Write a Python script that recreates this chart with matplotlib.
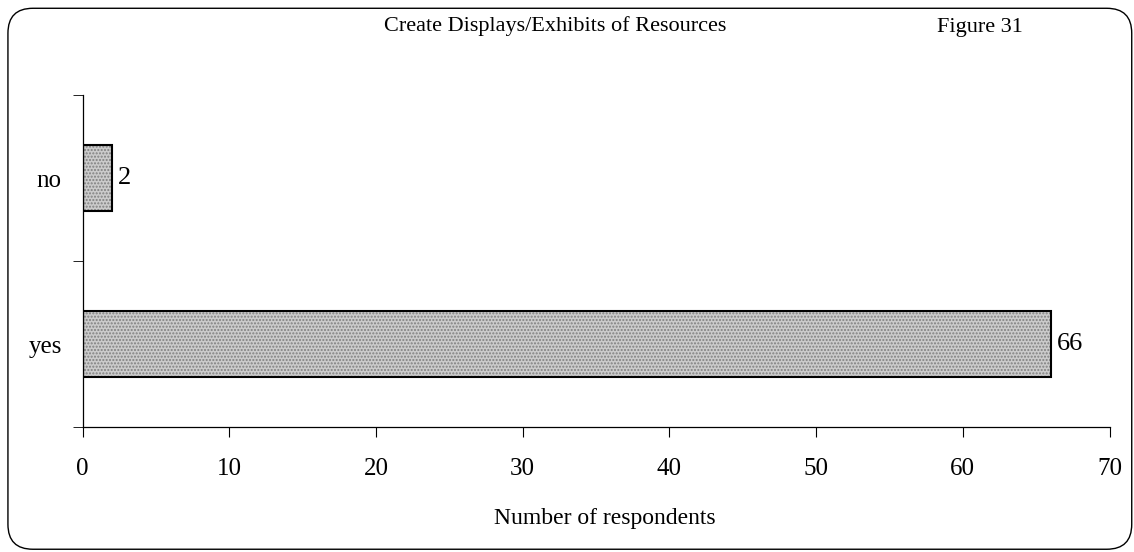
import matplotlib
matplotlib.use('Agg')
from matplotlib import pyplot as plt
from matplotlib.patches import FancyBboxPatch

plt.rcParams['font.family'] = ['Liberation Serif', 'DejaVu Serif']

categories = ['yes', 'no']
counts = [66, 2]
xticks = [0, 10, 20, 30, 40, 50, 60, 70]

fig = plt.figure(figsize=(11.34, 5.52), dpi=100)

# rounded frame around the whole chart
frame = FancyBboxPatch((0.007, 0.005), 0.991, 0.980,
                       boxstyle='round,pad=0,rounding_size=0.022',
                       transform=fig.transFigure, fill=False,
                       edgecolor='black', linewidth=1.0,
                       mutation_aspect=1134 / 552)
fig.patches.append(frame)

ax = fig.add_axes([0.0728, 0.2264, 0.9056, 0.6015])
ypos = list(range(len(categories)))
# dotted grey fill, then a black outline on top
ax.barh(ypos, counts, height=0.4, color='#cbcbcb', edgecolor='#808080',
        hatch='.....', linewidth=0)
ax.barh(ypos, counts, height=0.4, fill=False, edgecolor='black', linewidth=1.5)
for y, v in zip(ypos, counts):
    ax.text(v + 0.4, y, str(v), va='center', ha='left', fontsize=19)

ax.set_xlim(0, 70)
ax.set_ylim(-0.5, 1.5)
ax.set_xticks(xticks)
ax.set_xticklabels([str(t) for t in xticks], fontsize=18)
ax.set_yticks(ypos)
ax.set_yticklabels(categories, fontsize=18)
ax.set_yticks([-0.5, 0.5, 1.5], minor=True)
ax.tick_params(axis='y', which='major', length=0, pad=15)
ax.tick_params(axis='y', which='minor', length=7, direction='out')
ax.tick_params(axis='x', length=7, direction='out', pad=15)
for side in ['top', 'right']:
    ax.spines[side].set_visible(False)
ax.spines['left'].set_linewidth(0.9)
ax.spines['bottom'].set_linewidth(0.9)

ax.set_xlabel('Number of respondents', fontsize=17)
ax.xaxis.set_label_coords(0.509, -0.245)
fig.text(0.49, 0.952, 'Create Displays/Exhibits of Resources',
         ha='center', va='center', fontsize=16)
fig.text(0.864, 0.950, 'Figure 31', ha='center', va='center', fontsize=16)

plt.savefig('out.png', dpi=100)
